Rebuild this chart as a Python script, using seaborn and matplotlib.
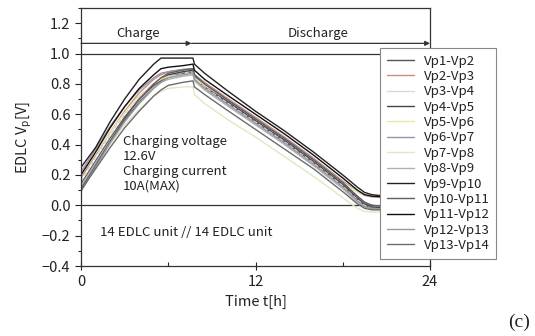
import matplotlib
matplotlib.use("Agg")
import matplotlib.pyplot as plt
from matplotlib.ticker import MultipleLocator
import seaborn as sns
import pandas as pd

sns.set_theme(style="white")
plt.rcParams['font.family'] = ['Noto Sans CJK JP', 'DejaVu Sans']
plt.rcParams['axes.unicode_minus'] = True

# time grid [h]
t_h = [0, 1, 2, 3, 4, 5, 5.5, 6, 7, 7.7, 7.8, 8.5, 10, 12, 14, 16, 18, 19, 19.5, 20, 21, 24]

vp1_2 = [0.12, 0.27, 0.42, 0.56, 0.68, 0.78, 0.82, 0.85, 0.87, 0.88, 0.84, 0.78, 0.68, 0.55, 0.42, 0.28, 0.13, 0.04, 0.00, -0.015, -0.02, -0.02]
vp2_3 = [0.18, 0.33, 0.48, 0.62, 0.74, 0.83, 0.86, 0.88, 0.895, 0.90, 0.86, 0.81, 0.71, 0.58, 0.45, 0.31, 0.16, 0.09, 0.065, 0.055, 0.05, 0.05]
vp3_4 = [0.16, 0.31, 0.46, 0.60, 0.72, 0.80, 0.84, 0.86, 0.875, 0.88, 0.84, 0.78, 0.68, 0.55, 0.42, 0.28, 0.13, 0.04, 0.00, -0.01, -0.015, -0.015]
vp4_5 = [0.14, 0.29, 0.44, 0.58, 0.70, 0.79, 0.83, 0.86, 0.88, 0.89, 0.85, 0.79, 0.69, 0.56, 0.43, 0.29, 0.14, 0.05, 0.01, -0.01, -0.02, -0.02]
vp5_6 = [0.20, 0.34, 0.48, 0.61, 0.72, 0.80, 0.83, 0.85, 0.86, 0.87, 0.84, 0.79, 0.70, 0.57, 0.44, 0.30, 0.15, 0.09, 0.07, 0.06, 0.06, 0.06]
vp6_7 = [0.22, 0.37, 0.52, 0.65, 0.76, 0.84, 0.87, 0.88, 0.895, 0.90, 0.86, 0.80, 0.70, 0.57, 0.44, 0.30, 0.15, 0.06, 0.02, 0.00, -0.01, -0.01]
vp7_8 = [0.12, 0.26, 0.40, 0.53, 0.63, 0.72, 0.75, 0.77, 0.78, 0.78, 0.73, 0.67, 0.57, 0.45, 0.32, 0.19, 0.05, -0.02, -0.04, -0.045, -0.045, -0.045]
vp8_9 = [0.13, 0.28, 0.43, 0.57, 0.69, 0.78, 0.81, 0.83, 0.85, 0.86, 0.82, 0.76, 0.66, 0.53, 0.40, 0.26, 0.11, 0.02, -0.01, -0.025, -0.03, -0.03]
vp9_10 = [0.25, 0.38, 0.55, 0.70, 0.83, 0.93, 0.97, 0.97, 0.97, 0.97, 0.93, 0.87, 0.76, 0.62, 0.49, 0.35, 0.20, 0.12, 0.085, 0.07, 0.06, 0.055]
vp10_11 = [0.11, 0.26, 0.42, 0.57, 0.70, 0.80, 0.84, 0.87, 0.89, 0.90, 0.86, 0.80, 0.70, 0.57, 0.44, 0.30, 0.15, 0.06, 0.02, 0.00, -0.01, -0.01]
vp11_12 = [0.20, 0.35, 0.51, 0.65, 0.77, 0.86, 0.90, 0.91, 0.92, 0.93, 0.89, 0.83, 0.73, 0.60, 0.47, 0.33, 0.18, 0.10, 0.07, 0.06, 0.055, 0.05]
vp12_13 = [0.09, 0.25, 0.41, 0.55, 0.67, 0.77, 0.81, 0.84, 0.86, 0.87, 0.83, 0.77, 0.67, 0.54, 0.41, 0.27, 0.12, 0.03, -0.01, -0.02, -0.025, -0.025]
vp13_14 = [0.10, 0.24, 0.38, 0.51, 0.62, 0.72, 0.76, 0.79, 0.81, 0.82, 0.78, 0.73, 0.63, 0.50, 0.37, 0.24, 0.09, 0.01, -0.02, -0.03, -0.03, -0.03]

labels = ["Vp1-Vp2", "Vp2-Vp3", "Vp3-Vp4", "Vp4-Vp5", "Vp5-Vp6", "Vp6-Vp7", "Vp7-Vp8",
          "Vp8-Vp9", "Vp9-Vp10", "Vp10-Vp11", "Vp11-Vp12", "Vp12-Vp13", "Vp13-Vp14"]
series = [vp1_2, vp2_3, vp3_4, vp4_5, vp5_6, vp6_7, vp7_8, vp8_9, vp9_10, vp10_11, vp11_12, vp12_13, vp13_14]
colors = ["#555555", "#c8907c", "#d8d8d8", "#444444", "#ece6a8", "#9a8fa8", "#dfe8c4",
          "#b0b0bc", "#222222", "#5e5e6c", "#111111", "#9a9a9a", "#6c6c6c"]

rows = []
for lab, vals in zip(labels, series):
    for tt, v in zip(t_h, vals):
        rows.append({"t": tt, "V": v, "pair": lab})
df = pd.DataFrame(rows)

fig = plt.figure(figsize=(5.35, 3.36), dpi=100)
ax = fig.add_axes([81/535, 70/336, 349/535, 258/336])

sns.lineplot(data=df, x="t", y="V", hue="pair", hue_order=labels,
             palette=dict(zip(labels, colors)), linewidth=1.0, ax=ax,
             sort=False, estimator=None)
for line, lab in zip(ax.get_lines(), labels):
    if lab in ("Vp3-Vp4",):
        line.set_linestyle((0, (3, 1.5)))

ax.set_xlim(0, 24)
ax.set_ylim(-0.4, 1.3)
ax.xaxis.set_major_locator(MultipleLocator(12))
ax.xaxis.set_minor_locator(MultipleLocator(6))
ax.yaxis.set_major_locator(MultipleLocator(0.2))
ax.yaxis.set_minor_locator(MultipleLocator(0.1))
ax.set_yticks([-0.4, -0.2, 0.0, 0.2, 0.4, 0.6, 0.8, 1.0, 1.2])
ax.set_yticklabels(["\u22120.4", "\u22120.2", "0.0", "0.2", "0.4", "0.6", "0.8", "1.0", "1.2"])
ax.tick_params(axis='both', which='major', direction='out', length=4, width=0.8,
               labelsize=10.5, colors='#222222', left=True, bottom=True)
ax.tick_params(axis='x', which='major', direction='inout', length=6)
ax.tick_params(axis='x', which='minor', direction='in', length=3, width=0.8, bottom=True)
ax.tick_params(axis='y', which='minor', direction='out', length=2.5, width=0.8, left=True)
for s in ax.spines.values():
    s.set_color('#333333')
    s.set_linewidth(0.9)

ax.set_xlabel("Time t[h]", fontsize=10.5, color='#222222', labelpad=4)
ax.set_ylabel("EDLC V$_{\\mathregular{p}}$[V]", fontsize=10.5, color='#222222', labelpad=6)

ax.axhline(0.0, color='#333333', lw=0.9, zorder=1)
ax.axhline(1.0, color='#333333', lw=0.9, zorder=1)
ya = 1.067
ax.annotate('', xy=(7.6, ya), xytext=(0, ya),
            arrowprops=dict(arrowstyle='-|>', color='#333333', lw=0.9, mutation_scale=7, shrinkA=0, shrinkB=0))
ax.annotate('', xy=(24, ya), xytext=(7.6, ya),
            arrowprops=dict(arrowstyle='-|>', color='#333333', lw=0.9, mutation_scale=7, shrinkA=0, shrinkB=0))
ax.text(2.4, 1.135, "Charge", fontsize=9.5, va='center', ha='left', color='#222222')
ax.text(14.2, 1.135, "Discharge", fontsize=9.5, va='center', ha='left', color='#222222')

ax.text(2.87, 0.465, "Charging voltage\n12.6V\nCharging current\n10A(MAX)", fontsize=9.5,
        va='top', ha='left', linespacing=1.2, color='#222222')
ax.text(1.3, -0.18, "14 EDLC unit // 14 EDLC unit", fontsize=9.5, va='center', ha='left', color='#222222')

leg = ax.legend(loc='upper left', bbox_to_anchor=(380/535, 1 - 48/336), bbox_transform=fig.transFigure,
                borderaxespad=0, frameon=True, fancybox=False, fontsize=9.5, handlelength=2.1,
                handletextpad=0.7, labelspacing=0.18, borderpad=0.5, title=None)
leg.get_frame().set_edgecolor('#888888')
leg.get_frame().set_linewidth(0.8)
leg.get_frame().set_alpha(1)
for txt in leg.get_texts():
    txt.set_color('#222222')

fig.text(0.99, 1 - 322/336, "(c)", fontsize=14, family='Liberation Serif', ha='right', va='center', color='#222222')

fig.savefig("out.png", dpi=100)
